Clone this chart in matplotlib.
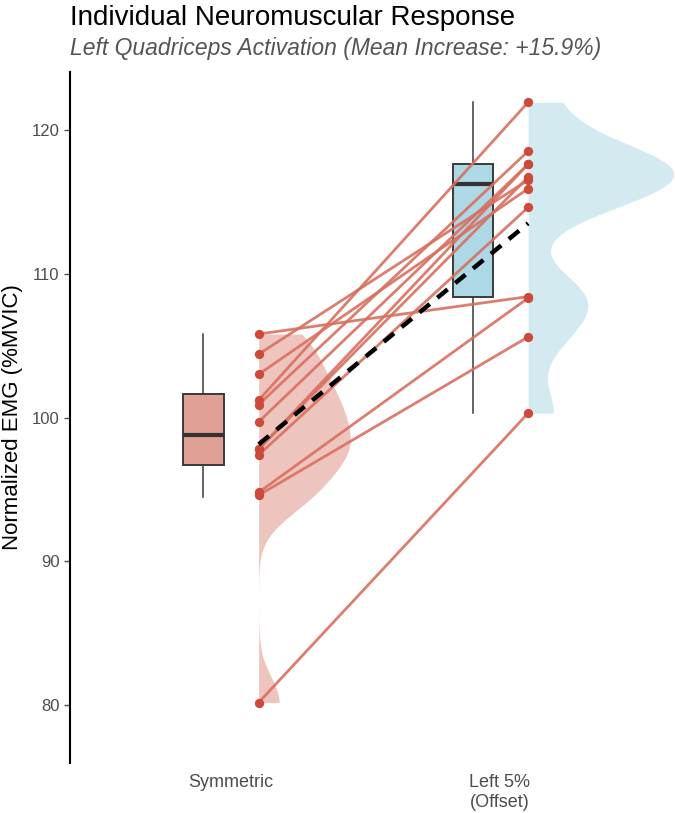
import numpy as np
import matplotlib
matplotlib.use("Agg")
import matplotlib.pyplot as plt

plt.rcParams['font.family'] = ['Liberation Sans', 'DejaVu Sans']

# dados (12 sujeitos, valores em %MVIC)
condicoes = ["Symmetric", "Left 5%\n(Offset)"]
symmetric = [105.8, 104.4, 103.0, 101.2, 100.9, 99.7,
             97.8, 97.8, 97.4, 94.8, 94.6, 80.2]
left5 = [108.4, 116.5, 115.9, 121.9, 118.5, 117.6,
         117.6, 116.7, 114.6, 108.3, 105.6, 100.3]

# estatisticas do boxplot
box_q1 = [96.7, 108.4]
box_med = [98.8, 116.2]
box_q3 = [101.6, 117.6]
box_lo = [94.5, 100.3]
box_hi = [105.8, 121.9]

cor_ponto = "#CD4A3A"
cor_linha = "#D9705F"
cor_box = ["#E0A096", "#ADD8E6"]
cor_violino = ["#EEC5BE", "#D4EAF1"]


def kde(valores, grade, bw):
    v = np.asarray(valores)
    z = (grade[:, None] - v[None, :]) / bw
    return np.exp(-0.5 * z ** 2).sum(axis=1) / (len(v) * bw * np.sqrt(2 * np.pi))


fig = plt.figure(figsize=(6.75, 8.13), dpi=100)
ax = fig.add_axes([0.1037, 0.0615, 0.8963, 0.8499])

x = np.array([1, 2])
grupos = [symmetric, left5]
larguras_banda = [1.8, 1.9]
largura_max = [0.34, 0.54]

# meio-violinos
for i in range(2):
    grade = np.linspace(min(grupos[i]), max(grupos[i]), 400)
    d = kde(grupos[i], grade, larguras_banda[i])
    x0 = x[i] + 0.105
    ax.fill_betweenx(grade, x0, x0 + d / d.max() * largura_max[i],
                     color=cor_violino[i], lw=0, zorder=1)

# boxplots
stats = []
for i in range(2):
    stats.append(dict(q1=box_q1[i], med=box_med[i], q3=box_q3[i],
                      whislo=box_lo[i], whishi=box_hi[i], fliers=[]))
bp = ax.bxp(stats, positions=x - 0.1, widths=0.15, patch_artist=True,
            showfliers=False, showcaps=False,
            boxprops=dict(edgecolor="#3a3a3a", linewidth=1.4),
            whiskerprops=dict(color="#3a3a3a", linewidth=1.1),
            medianprops=dict(color="#333333", linewidth=3))
for caixa, c in zip(bp["boxes"], cor_box):
    caixa.set_facecolor(c)
    caixa.set_zorder(2)

# linhas individuais
for a, b in zip(symmetric, left5):
    ax.plot([x[0] + 0.105, x[1] + 0.105], [a, b], color=cor_linha,
            lw=2, alpha=0.9, zorder=3)
ax.scatter(np.full(len(symmetric), x[0] + 0.105), symmetric, s=45,
           color=cor_ponto, zorder=4, lw=0)
ax.scatter(np.full(len(left5), x[1] + 0.105), left5, s=45,
           color=cor_ponto, zorder=4, lw=0)

# media
ax.plot([x[0] + 0.105, x[1] + 0.105], [np.mean(symmetric), np.mean(left5)],
        color="black", lw=3.2, ls=(0, (3, 2.2)), zorder=5)

ax.set_xlim(0.405, 2.65)
ax.set_ylim(76.0, 124.0)
ax.set_yticks([80, 90, 100, 110, 120])
ax.set_xticks(x)
ax.set_xticklabels(condicoes, fontsize=13, color="#4d4d4d")
ax.tick_params(axis="x", length=0, pad=8)
ax.tick_params(axis="y", labelsize=12, labelcolor="#4d4d4d", color="#4d4d4d",
               length=4, width=1)
for lado in ["top", "right", "bottom"]:
    ax.spines[lado].set_visible(False)
ax.spines["left"].set_linewidth(1.5)
ax.set_ylabel("Normalized EMG (%MVIC)", fontsize=16, labelpad=6)

fig.text(0.1037, 1 - 5 / 813, "Individual Neuromuscular Response",
         fontsize=20, va="top", ha="left")
fig.text(0.1037, 1 - 37 / 813,
         "Left Quadriceps Activation (Mean Increase: +15.9%)",
         fontsize=16.5, va="top", ha="left", style="italic", color="#555555")

fig.savefig("out.png", dpi=100)
